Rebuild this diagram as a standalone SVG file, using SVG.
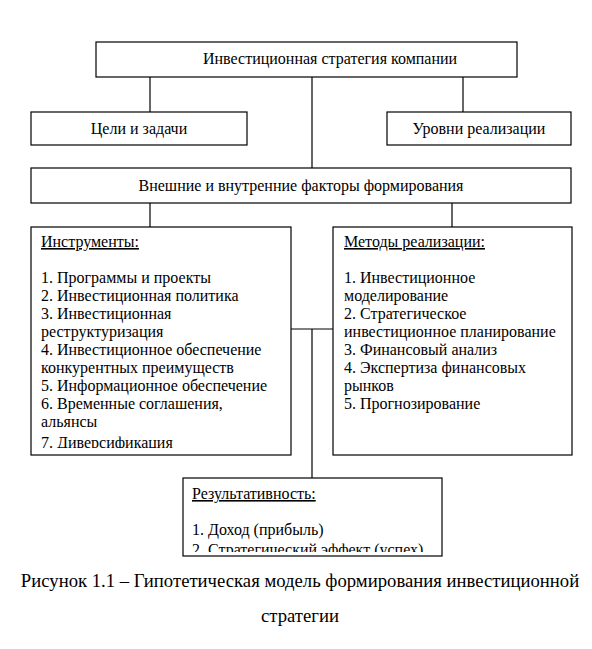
<svg xmlns="http://www.w3.org/2000/svg" width="592" height="649" viewBox="0 0 592 649">
<style>
.box{fill:#fff;stroke:#000;stroke-width:1.2}
.t{font-family:"Times New Roman","Liberation Serif",Tinos,"Noto Serif","DejaVu Serif",FreeSerif,"Nimbus Roman",Times,serif;font-size:16px;fill:#000}
.c{text-anchor:middle}
.u{text-decoration:underline}
.cap{font-family:"Times New Roman","Liberation Serif",Tinos,"Noto Serif","DejaVu Serif",FreeSerif,"Nimbus Roman",Times,serif;font-size:18.7px;fill:#000;text-anchor:middle}
#connectors line{stroke:#000;stroke-width:1.2}
</style>
<defs>
<clipPath id="clipI"><rect x="31" y="227" width="260" height="221"/></clipPath>
<clipPath id="clipR"><rect x="183" y="478" width="259" height="74"/></clipPath>
</defs>
<rect width="592" height="649" fill="#fff"/>
<g id="connectors">
<line x1="150" y1="77" x2="150" y2="112"/>
<line x1="463" y1="77" x2="463" y2="112"/>
<line x1="312" y1="77" x2="312" y2="168"/>
<line x1="150" y1="203" x2="150" y2="227"/>
<line x1="452" y1="203" x2="452" y2="227"/>
<line x1="291" y1="329" x2="333" y2="329"/>
<line x1="312" y1="329" x2="312" y2="478"/>
</g>
<g id="strategy">
<rect class="box" x="96" y="42" width="421" height="35"/>
<text class="t" x="203" y="64">Инвестиционная стратегия компании</text>
</g>
<g id="goals">
<rect class="box" x="31" y="112" width="216" height="33"/>
<text class="t c" x="139" y="134">Цели и задачи</text>
</g>
<g id="levels">
<rect class="box" x="387" y="112" width="184" height="33"/>
<text class="t c" x="479" y="134">Уровни реализации</text>
</g>
<g id="factors">
<rect class="box" x="31" y="168" width="540" height="35"/>
<text class="t c" x="301" y="191">Внешние и внутренние факторы формирования</text>
</g>
<g id="instruments">
<rect class="box" x="31" y="227" width="260" height="228"/>
<g clip-path="url(#clipI)">
<text class="t" x="41" y="247"><tspan class="u">Инструменты:</tspan></text>
<text class="t" x="41" y="283">1. Программы и проекты</text>
<text class="t" x="41" y="301">2. Инвестиционная политика</text>
<text class="t" x="41" y="319">3. Инвестиционная</text>
<text class="t" x="41" y="337">реструктуризация</text>
<text class="t" x="41" y="355">4. Инвестиционное обеспечение</text>
<text class="t" x="41" y="373">конкурентных преимуществ</text>
<text class="t" x="41" y="391">5. Информационное обеспечение</text>
<text class="t" x="41" y="409">6. Временные соглашения,</text>
<text class="t" x="41" y="427">альянсы</text>
<text class="t" x="41" y="448">7. Диверсификация</text>
</g>
</g>
<g id="methods">
<rect class="box" x="333" y="227" width="239" height="228"/>
<text class="t" x="344" y="247"><tspan class="u">Методы реализации:</tspan></text>
<text class="t" x="344" y="283">1. Инвестиционное</text>
<text class="t" x="344" y="301">моделирование</text>
<text class="t" x="344" y="319">2. Стратегическое</text>
<text class="t" x="344" y="337">инвестиционное планирование</text>
<text class="t" x="344" y="355">3. Финансовый анализ</text>
<text class="t" x="344" y="373">4. Экспертиза финансовых</text>
<text class="t" x="344" y="391">рынков</text>
<text class="t" x="344" y="409">5. Прогнозирование</text>
</g>
<g id="results">
<rect class="box" x="183" y="478" width="259" height="78"/>
<g clip-path="url(#clipR)">
<text class="t" x="192" y="499"><tspan class="u">Результативность:</tspan></text>
<text class="t" x="192" y="535">1. Доход (прибыль)</text>
<text class="t" x="192" y="555">2. Стратегический эффект (успех)</text>
</g>
</g>
<g id="caption">
<text class="cap" x="300" y="587">Рисунок 1.1 – Гипотетическая модель формирования инвестиционной</text>
<text class="cap" x="300" y="622">стратегии</text>
</g>
</svg>
